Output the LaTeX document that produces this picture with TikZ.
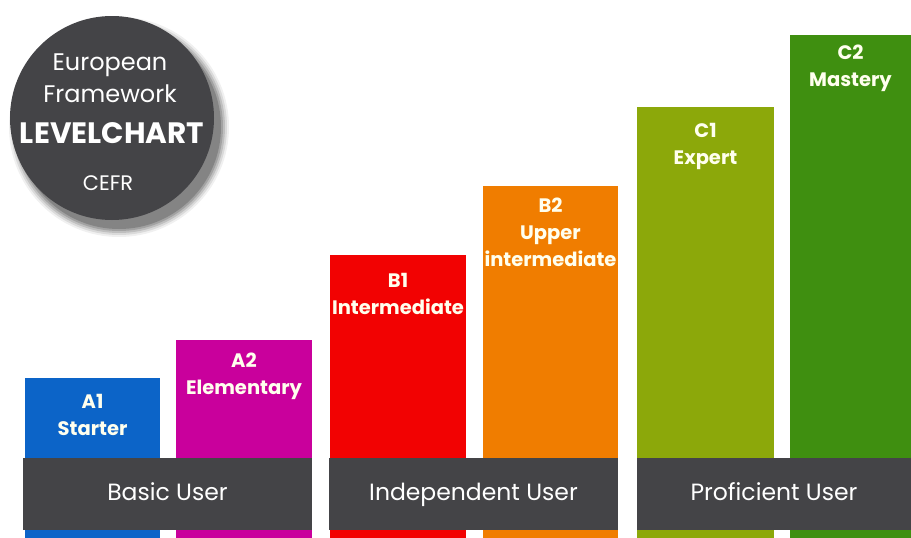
\documentclass[tikz,border=0pt]{standalone}
\usepackage{fontspec}
\setmainfont{Poppins}
\usepackage{tikz}
\usetikzlibrary{positioning}

\definecolor{a1col}{HTML}{0C64C8}
\definecolor{a2col}{HTML}{C9009C}
\definecolor{b1col}{HTML}{F20202}
\definecolor{b2col}{HTML}{F07D00}
\definecolor{c1col}{HTML}{8CA80A}
\definecolor{c2col}{HTML}{3F8F10}
\definecolor{bandgray}{HTML}{444447}
\definecolor{labelcol}{HTML}{FFFFEE}

\tikzset{
  bar/.style={fill=#1, anchor=south west, inner sep=0pt, outer sep=0pt, minimum width=136pt},
  lvl/.style={text=labelcol, font=\bfseries\fontsize{19.5}{27}\selectfont, align=center, inner sep=0pt},
  band/.style={fill=bandgray, anchor=north west, inner sep=0pt, outer sep=0pt,
    minimum height=72pt, text height=18pt, text depth=5pt, text=white,
    font=\fontsize{23.5}{26}\selectfont},
  disc/.style={circle, fill=bandgray, minimum size=204pt, inner sep=0pt},
  disctext/.style={text=white, inner sep=0pt, font=\fontsize{24}{25}\selectfont}
}

\begin{document}
\begin{tikzpicture}[x=1pt, y=-1pt]
        \useasboundingbox (0,0) rectangle (911,538);
        \fill[white] (0,0) rectangle (911,538);

        % Logo
        \foreach \s/\o in {9/0.06, 7/0.09, 5/0.12, 3/0.15, 1/0.18}
            \fill[black, opacity=\o] (119,127) circle (101pt+\s pt);
        \node[disc] (logo) at (112,118) {};
        \node[disctext] (eu) at (110,65) {European};
        \node[disctext] (fw) at (110,94) {Framework};
        \node[disctext, font=\bfseries\fontsize{29.5}{30}\selectfont] (lc) at (112,133) {LEVELCHART};
        \node[disctext, font=\fontsize{21}{22}\selectfont] (cefr) at (108,183) {CEFR};

        % Barres
        \node[bar=a1col, minimum width=135pt, minimum height=160pt] (a1) at (25,538) {};
        \node[bar=a2col, minimum height=198pt] (a2) at (176,538) {};
        \node[bar=b1col, minimum height=283pt] (b1) at (330,538) {};
        \node[bar=b2col, minimum width=135pt, minimum height=352pt] (b2) at (483,538) {};
        \node[bar=c1col, minimum width=137pt, minimum height=431pt] (c1) at (637,538) {};
        \node[bar=c2col, minimum width=121pt, minimum height=503pt] (c2) at (790,538) {};

        % Niveaux
        \node[lvl, below=16pt of a1.north] (a1t) {A1\\Starter};
        \node[lvl, below=13pt of a2.north] (a2t) {A2\\Elementary};
        \node[lvl, below=18pt of b1.north] (b1t) {B1\\Intermediate};
        \node[lvl, below=12pt of b2.north] (b2t) {B2\\Upper\\intermediate};
        \node[lvl, below=16pt of c1.north] (c1t) {C1\\Expert};
        \node[lvl, below=10pt of c2.north] (c2t) {C2\\Mastery};

        % Bandes
        \node[band, minimum width=289pt] (basic) at (23,458) {Basic User};
        \node[band, minimum width=289pt] (indep) at (329,458) {Independent User};
        \node[band, minimum width=274pt] (prof) at (637,458) {Proficient User};
    \end{tikzpicture}
\end{document}
